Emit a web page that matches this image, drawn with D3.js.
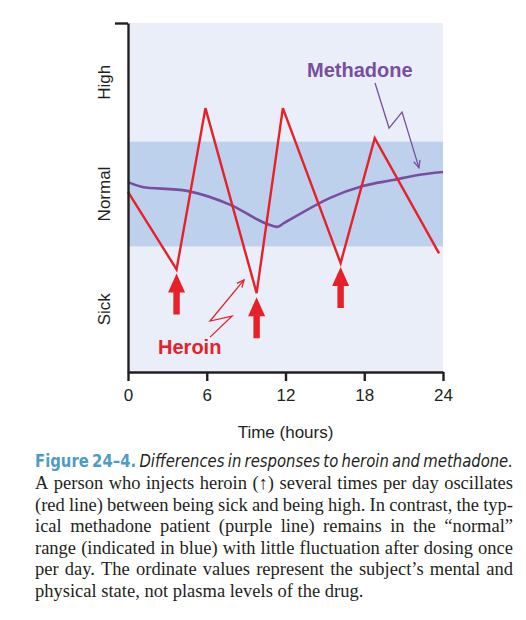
<!DOCTYPE html>
<html><head><meta charset="utf-8">
<script src="https://cdn.jsdelivr.net/npm/d3@7"></script>
<style>body{margin:0;background:#fff}</style>
</head><body>
<svg id="c" width="526" height="620"></svg>
<script>
// ---- data ----
const heroinHours = [0, 3.7, 5.9, 9.8, 11.8, 16.2, 18.8, 23.7];
const heroinState = [51.6, 29.4, 75.6, 22.6, 75.6, 31.2, 67.0, 34.0];
const doseHours = [3.7, 9.8, 16.2];
const doseState = [29.4, 22.6, 31.2];
const methadoneHours = [0, 1.1, 4.5, 7.8, 9.8, 10.6, 11.4, 11.9, 15.4, 17.9, 20.2, 22, 24];
const methadoneState = [54.4, 53.0, 51.9, 47.9, 43.8, 42.4, 41.6, 42.7, 49.9, 53.3, 55.0, 56.4, 57.3];
const timeTicks = [0, 6, 12, 18, 24];
const stateBands = ["Sick", "Normal", "High"];
const bandLimits = [0, 36, 66, 100];
const heroinPointer = [[6.25, 10.0], [7.92, 16.0], [6.25, 14.6], [8.84, 26.4]];
const methadonePointer = [[18.82, 82.8], [19.89, 69.9], [20.88, 74.5], [22.17, 58.5]];
const captionTitle = ["Figure 24–4.", "Differences in responses to heroin and methadone."];
const captionLines = [
  "A person who injects heroin (↑) several times per day oscillates",
  "(red line) between being sick and being high. In contrast, the typ-",
  "ical methadone patient (purple line) remains in the “normal”",
  "range (indicated in blue) with little fluctuation after dosing once",
  "per day. The ordinate values represent the subject’s mental and",
  "physical state, not plasma levels of the drug."
];

const svg = d3.select("#c");
const x = d3.scaleLinear().domain([0, 24]).range([128, 443]);
const y = d3.scaleLinear().domain([0, 100]).range([372, 23]);
const RED = "#e62129", PURPLE = "#7a4e9f", INK = "#231f20";
const sans = "Liberation Sans, Arial, sans-serif";

// background
svg.append("rect").attr("x", x(0)).attr("y", y(100)).attr("width", x(24) - x(0)).attr("height", y(0) - y(100)).attr("fill", "#e9eef8");
svg.append("rect").attr("x", x(0)).attr("y", y(bandLimits[2])).attr("width", x(24) - x(0)).attr("height", y(bandLimits[1]) - y(bandLimits[2])).attr("fill", "#bdd0ec");

// methadone line
const mData = methadoneHours.map((h, i) => [h, methadoneState[i]]);
svg.append("path").datum(mData)
  .attr("d", d3.line().x(d => x(d[0])).y(d => y(d[1])).curve(d3.curveCatmullRom.alpha(0.5)))
  .attr("fill", "none").attr("stroke", PURPLE).attr("stroke-width", 2.6);

// heroin line
const hData = heroinHours.map((h, i) => [h, heroinState[i]]);
svg.append("path").datum(hData)
  .attr("d", d3.line().x(d => x(d[0])).y(d => y(d[1])))
  .attr("fill", "none").attr("stroke", RED).attr("stroke-width", 2.4).attr("stroke-linejoin", "miter");

// dose arrows
doseHours.forEach((h, i) => {
  const cx = x(h), tip = y(doseState[i]) + 4;
  const hw = 8.5, hl = 19, sw = 3.2, len = 41;
  svg.append("path")
    .attr("d", `M${cx},${tip} L${cx + hw},${tip + hl} L${cx + sw},${tip + hl} L${cx + sw},${tip + len} L${cx - sw},${tip + len} L${cx - sw},${tip + hl} L${cx - hw},${tip + hl} Z`)
    .attr("fill", RED);
});

// pointers
function pointer(pts, color) {
  const p = pts.map(d => [x(d[0]), y(d[1])]);
  svg.append("path").attr("d", d3.line()(p)).attr("fill", "none").attr("stroke", color).attr("stroke-width", 1.3);
  const a = p[p.length - 1], b = p[p.length - 2];
  const ang = Math.atan2(a[1] - b[1], a[0] - b[0]);
  const L = 8, W = 0.42;
  const p1 = [a[0] - L * Math.cos(ang - W), a[1] - L * Math.sin(ang - W)];
  const p2 = [a[0] - L * Math.cos(ang + W), a[1] - L * Math.sin(ang + W)];
  svg.append("path").attr("d", `M${p1}L${a}L${p2}`).attr("fill", "none").attr("stroke", color).attr("stroke-width", 1.3);
}
pointer(heroinPointer, RED);
pointer(methadonePointer, PURPLE);

svg.append("text").attr("x", x(2.29)).attr("y", y(5.2)).text("Heroin")
  .attr("font-family", sans).attr("font-weight", "bold").attr("font-size", 20).attr("fill", RED);
svg.append("text").attr("x", x(13.64)).attr("y", y(84.5)).text("Methadone")
  .attr("font-family", sans).attr("font-weight", "bold").attr("font-size", 20).attr("fill", PURPLE);

// axes
const xa = svg.append("g").attr("transform", `translate(0,${y(0)})`)
  .call(d3.axisBottom(x).tickValues(timeTicks).tickSize(9).tickSizeOuter(0).tickPadding(8));
const ya = svg.append("g").attr("transform", `translate(${x(0)},0)`)
  .call(d3.axisLeft(y).tickValues([100]).tickSize(13).tickSizeOuter(0).tickFormat(""));
[xa, ya].forEach(g => {
  g.selectAll("path,line").attr("stroke", INK).attr("stroke-width", 2.4);
  g.selectAll("text").attr("font-family", sans).attr("font-size", 17).attr("fill", INK);
});

// state labels
stateBands.forEach((s, i) => {
  const cy = y((bandLimits[i] + bandLimits[i + 1]) / 2);
  svg.append("text").attr("transform", `translate(110,${cy}) rotate(-90)`)
    .attr("text-anchor", "middle").attr("font-family", sans).attr("font-size", 17).attr("fill", INK).text(s);
});

svg.append("text").attr("x", (x(0) + x(24)) / 2).attr("y", 438).attr("text-anchor", "middle")
  .attr("font-family", sans).attr("font-size", 17).attr("fill", INK).text("Time (hours)");

// caption
const left = 35, right = 513, W = right - left;
function setLine(words, by, justify) {
  const g = svg.append("g");
  const nodes = words.map(w => {
    const t = g.append("text").attr("y", by).text(w.t)
      .attr("font-family", w.f).attr("font-size", w.s).attr("font-style", w.i ? "italic" : null)
      .attr("font-weight", w.b ? "bold" : null).attr("fill", w.c);
    return t;
  });
  const widths = nodes.map(n => n.node().getComputedTextLength());
  const sum = d3.sum(widths);
  const sp = words[0].s * 0.25;
  let gap = sp, scale = 1;
  if (justify) {
    gap = (W - sum) / (words.length - 1);
    if (gap < sp * 0.8) { gap = sp * 0.8; scale = W / (sum + gap * (words.length - 1)); }
  }
  let cx = 0;
  nodes.forEach((n, i) => { n.attr("x", cx); cx += widths[i] + gap; });
  g.attr("transform", `translate(${left},0) scale(${scale},1)`);
}
const serif = "Liberation Serif, Times New Roman, serif";
const tfont = "Liberation Sans Narrow, DejaVu Sans Condensed, Roboto, sans-serif";
const titleWords = captionTitle[0].split(" ").map(t => ({ t, f: tfont, s: 18, b: true, c: "#4f9cc2" }))
  .concat(captionTitle[1].split(" ").map(t => ({ t, f: tfont, s: 18, i: true, c: INK })));
setLine(titleWords, 467, true);
captionLines.forEach((ln, i) => {
  setLine(ln.split(" ").map(t => ({ t, f: serif, s: 18.5, c: INK })), 489 + i * 21.6, i < captionLines.length - 1);
});
</script>
</body></html>
